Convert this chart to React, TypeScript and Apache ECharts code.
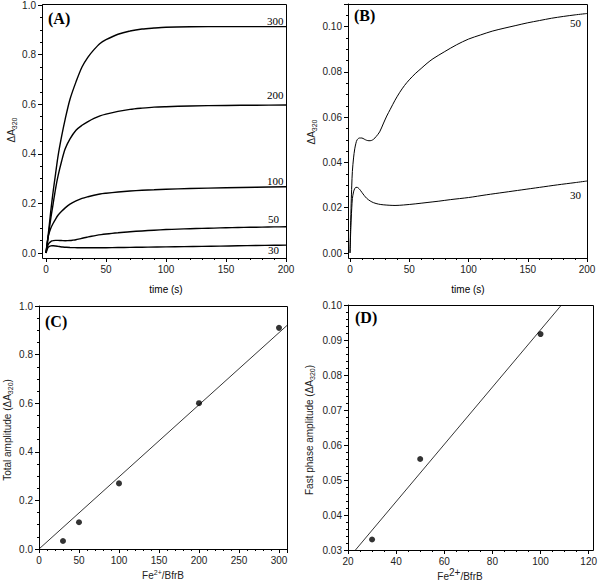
import React, { useEffect, useRef } from 'react';
import * as echarts from 'echarts';

// Panel A: time (s) and ΔA320 for Fe2+/BfrB = 300, 200, 100
const timeA = [0, 1, 2, 4, 6, 8, 10, 13, 16, 20, 25, 30, 35, 40, 45, 50, 60, 70, 80, 90, 100, 120, 150, 175, 200];
const curve300 = [0, 0.04, 0.08, 0.17, 0.25, 0.32, 0.39, 0.47, 0.54, 0.62, 0.69, 0.75, 0.79, 0.82, 0.845, 0.86, 0.882, 0.895, 0.903, 0.907, 0.91, 0.912, 0.913, 0.913, 0.913];
const curve200 = [0, 0.035, 0.07, 0.14, 0.2, 0.26, 0.31, 0.37, 0.42, 0.46, 0.495, 0.515, 0.53, 0.543, 0.553, 0.56, 0.571, 0.579, 0.584, 0.588, 0.59, 0.593, 0.595, 0.596, 0.597];
const curve100 = [0, 0.04, 0.07, 0.1, 0.12, 0.137, 0.152, 0.168, 0.182, 0.197, 0.21, 0.22, 0.227, 0.233, 0.238, 0.241, 0.246, 0.25, 0.253, 0.255, 0.257, 0.26, 0.263, 0.265, 0.267];

// Fe2+/BfrB = 50 and 30 (shown in A and B)
const time50 = [0, 0.5, 1, 1.5, 2, 3, 4, 5, 6, 8, 10, 12, 14, 16, 18, 20, 22, 25, 28, 31, 34, 38, 42, 46, 50, 55, 60, 65, 70, 80, 90, 100, 110, 120, 130, 140, 150, 160, 170, 180, 190, 200];
const curve50 = [0, 0.012, 0.022, 0.03, 0.036, 0.042, 0.046, 0.0485, 0.05, 0.0508, 0.0508, 0.0503, 0.0498, 0.0496, 0.0497, 0.0503, 0.0514, 0.0535, 0.057, 0.0605, 0.0635, 0.0675, 0.071, 0.074, 0.0765, 0.0792, 0.0815, 0.0838, 0.0858, 0.089, 0.092, 0.0945, 0.0963, 0.098, 0.0993, 0.1005, 0.1017, 0.1027, 0.1037, 0.1045, 0.1052, 0.1058];
const time30 = [0, 0.5, 1, 1.5, 2, 3, 4, 5, 6, 8, 10, 12, 14, 17, 20, 24, 28, 33, 38, 45, 55, 65, 75, 85, 100, 115, 130, 145, 160, 175, 190, 200];
const curve30 = [0, 0.008, 0.015, 0.02, 0.024, 0.027, 0.0285, 0.029, 0.029, 0.0282, 0.0268, 0.0254, 0.0242, 0.023, 0.0222, 0.0216, 0.0213, 0.0211, 0.021, 0.0212, 0.0217, 0.0223, 0.0229, 0.0236, 0.0245, 0.0257, 0.0268, 0.0279, 0.029, 0.0301, 0.0311, 0.0318];

// Panel C
const ratioC = [30, 50, 100, 200, 300];
const totalAmp = [0.033, 0.11, 0.27, 0.6, 0.91];
const fitCx = [0, 310];
const fitCy = [0, 0.92];

// Panel D
const ratioD = [30, 50, 100];
const fastAmp = [0.033, 0.056, 0.0917];
const fitDx = [23.1, 108.7];
const fitDy = [0.03, 0.1];

const zip = (xs: number[], ys: number[]) => xs.map((x, i) => [x, ys[i]]);

const SANS = '"Liberation Sans", Arial, sans-serif';
const SERIF = '"Liberation Serif", "Times New Roman", serif';
const TXT = '#222';

function axisBase(extra: any) {
  return {
    type: 'value',
    splitLine: { show: false },
    axisLine: { show: true, onZero: false, lineStyle: { color: '#000', width: 1 } },
    axisTick: { show: true, inside: false, length: 4, lineStyle: { color: '#000' } },
    minorTick: { show: true, splitNumber: 5, length: 2, lineStyle: { color: '#000' } },
    axisLabel: { fontFamily: SANS, fontSize: 10, color: TXT, margin: 6 },
    ...extra,
  };
}

const richSub = {
  m: { fontFamily: SANS, fontSize: 10, fill: TXT, color: TXT },
  s: { fontFamily: SANS, fontSize: 7, fill: TXT, color: TXT, padding: [6, 0, 0, 0] },
};
const richSup = {
  m: { fontFamily: SANS, fontSize: 10, fill: TXT, color: TXT },
  s: { fontFamily: SANS, fontSize: 7, fill: TXT, color: TXT, padding: [0, 0, 6, 0] },
};
const richSupBig = {
  m: { fontFamily: SANS, fontSize: 10, fill: TXT, color: TXT },
  s: { fontFamily: SANS, fontSize: 10, fill: TXT, color: TXT, padding: [0, 0, 7, 0] },
};

function txt(text: string, x: number, y: number, font: string, align = 'left', rotation = 0, rich?: any) {
  const style: any = {
    text,
    font,
    fill: '#000',
    align,
    verticalAlign: 'middle',
    textAlign: align,
    textVerticalAlign: 'middle',
  };
  if (rich) style.rich = rich;
  return { type: 'text', x, y, rotation, style, z: 10 };
}

function frame(x: number, y: number, w: number, h: number) {
  return {
    type: 'rect',
    shape: { x: x + 0.5, y: y + 0.5, width: w, height: h },
    style: { fill: 'none', stroke: '#000', lineWidth: 1 },
    z: 5,
  };
}

export default function App() {
  const ref = useRef<HTMLDivElement>(null);
  useEffect(() => {
    document.body.style.margin = '0';
    const chart = echarts.init(ref.current!, null, { renderer: 'svg' });
    const lineStyleA = { color: '#000', width: 1.4 };
    const lineStyleB = { color: '#000', width: 1 };
    const curve = (name: string, xi: number, data: number[][], ls: any) => ({
      name,
      type: 'line',
      xAxisIndex: xi,
      yAxisIndex: xi,
      data,
      showSymbol: false,
      symbol: 'none',
      smooth: 0.3,
      lineStyle: ls,
      silent: true,
    });
    const option: any = {
      animation: false,
      backgroundColor: '#fff',
      grid: [
        { left: 46, top: 4, width: 240, height: 249 },
        { left: 350, top: 4, width: 237, height: 249 },
        { left: 39, top: 306, width: 248, height: 243 },
        { left: 348, top: 305, width: 245, height: 245 },
      ],
      xAxis: [
        axisBase({ gridIndex: 0, min: 0, max: 200, interval: 50, offset: 5 }),
        axisBase({ gridIndex: 1, min: 0, max: 200, interval: 50, offset: 5 }),
        axisBase({ gridIndex: 2, min: 0, max: 310, interval: 50, axisLabel: { fontFamily: SANS, fontSize: 10, color: TXT, margin: 6, showMaxLabel: false } }),
        axisBase({ gridIndex: 3, min: 20, max: 120, interval: 20, minorTick: { show: true, splitNumber: 4, length: 2, lineStyle: { color: '#000' } } }),
      ],
      yAxis: [
        axisBase({ gridIndex: 0, min: 0, max: 1, interval: 0.2, offset: 4, minorTick: { show: true, splitNumber: 4, length: 2, lineStyle: { color: '#000' } }, axisLabel: { fontFamily: SANS, fontSize: 10, color: TXT, margin: 6, formatter: (v: number) => v.toFixed(1) } }),
        axisBase({ gridIndex: 1, min: 0, max: 0.11, interval: 0.02, offset: 2, minorTick: { show: true, splitNumber: 4, length: 2, lineStyle: { color: '#000' } }, axisLabel: { fontFamily: SANS, fontSize: 10, color: TXT, margin: 6, showMaxLabel: false, formatter: (v: number) => v.toFixed(2) } }),
        axisBase({ gridIndex: 2, min: 0, max: 1, interval: 0.2, minorTick: { show: true, splitNumber: 4, length: 2, lineStyle: { color: '#000' } }, axisLabel: { fontFamily: SANS, fontSize: 10, color: TXT, margin: 6, formatter: (v: number) => v.toFixed(1) } }),
        axisBase({ gridIndex: 3, min: 0.03, max: 0.1, interval: 0.01, axisLabel: { fontFamily: SANS, fontSize: 10, color: TXT, margin: 6, formatter: (v: number) => v.toFixed(2) } }),
      ],
      series: [
        curve('300', 0, zip(timeA, curve300), lineStyleA),
        curve('200', 0, zip(timeA, curve200), lineStyleA),
        curve('100', 0, zip(timeA, curve100), lineStyleA),
        curve('50', 0, zip(time50, curve50), lineStyleA),
        curve('30', 0, zip(time30, curve30), lineStyleA),
        curve('50', 1, zip(time50, curve50), lineStyleB),
        curve('30', 1, zip(time30, curve30), lineStyleB),
        {
          type: 'line', xAxisIndex: 2, yAxisIndex: 2, data: zip(fitCx, fitCy), showSymbol: false, symbol: 'none',
          lineStyle: { color: '#000', width: 0.8 }, silent: true,
        },
        {
          type: 'scatter', xAxisIndex: 2, yAxisIndex: 2, data: zip(ratioC, totalAmp), symbol: 'circle', symbolSize: 6,
          itemStyle: { color: '#000' }, silent: true,
        },
        {
          type: 'line', xAxisIndex: 3, yAxisIndex: 3, data: zip(fitDx, fitDy), showSymbol: false, symbol: 'none',
          lineStyle: { color: '#000', width: 0.8 }, silent: true,
        },
        {
          type: 'scatter', xAxisIndex: 3, yAxisIndex: 3, data: zip(ratioD, fastAmp), symbol: 'circle', symbolSize: 6,
          itemStyle: { color: '#000' }, silent: true,
        },
      ],
      graphic: [
        frame(42, 4, 244, 254),
        frame(348, 4, 239, 254),
        frame(39, 306, 248, 243),
        frame(348, 305, 245, 245),
        txt('(A)', 48, 18, `bold 16px ${SERIF}`),
        txt('(B)', 354, 15, `bold 16px ${SERIF}`),
        txt('(C)', 45, 321, `bold 16px ${SERIF}`),
        txt('(D)', 355, 317, `bold 16px ${SERIF}`),
        txt('300', 267, 21, `11px ${SERIF}`),
        txt('200', 267, 95, `11px ${SERIF}`),
        txt('100', 267, 181, `11px ${SERIF}`),
        txt('50', 268, 219, `11px ${SERIF}`),
        txt('30', 268, 250, `11px ${SERIF}`),
        txt('50', 570, 23, `11px ${SERIF}`),
        txt('30', 570, 195, `11px ${SERIF}`),
        txt('{m|ΔA}{s|320}', 11, 130, `10px ${SANS}`, 'center', Math.PI / 2, richSub),
        txt('{m|ΔA}{s|320}', 311, 132, `10px ${SANS}`, 'center', Math.PI / 2, richSub),
        txt('time (s)', 166, 289, `10px ${SANS}`, 'center'),
        txt('time (s)', 468, 289, `10px ${SANS}`, 'center'),
        txt('{m|Fe}{s|2+}{m|/BfrB}', 163, 575, `10px ${SANS}`, 'center', 0, richSup),
        txt('{m|Fe}{s|2+}{m|/BfrB}', 460, 576, `10px ${SANS}`, 'center', 0, richSupBig),
        txt('{m|Total amplitude (ΔA}{s|320}{m|)}', 7, 430, `10px ${SANS}`, 'center', Math.PI / 2, richSub),
        txt('{m|Fast phase amplitude (ΔA}{s|320}{m|)}', 309, 430, `10px ${SANS}`, 'center', Math.PI / 2, richSub),
      ],
    };
    chart.setOption(option);
    return () => chart.dispose();
  }, []);
  return <div ref={ref} style={{ width: 600, height: 587, position: 'absolute', left: 0, top: 0 }} />;
}
